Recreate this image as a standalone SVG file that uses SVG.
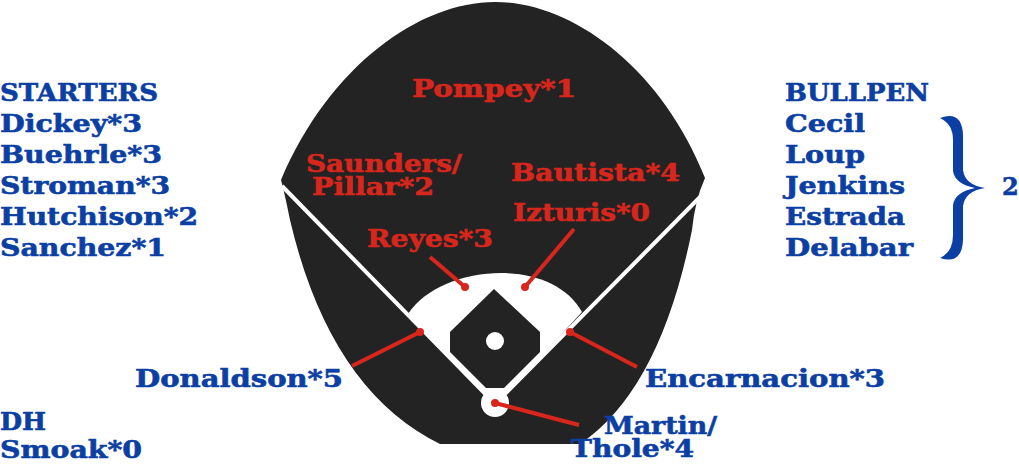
<svg xmlns="http://www.w3.org/2000/svg" width="1019" height="464" viewBox="0 0 1019 464">
<style>
text{font-family:"DejaVu Serif","Liberation Serif",serif;font-weight:900;font-size:24px;stroke-width:0.6px}
.b{fill:#0b3fa3;stroke:#0b3fa3}.r{fill:#d8261d;stroke:#d8261d}
.c{stroke:#d8261d;stroke-width:4;fill:none}
.d{fill:#d8261d}
</style>
<rect width="1019" height="464" fill="#fff"/>
<g id="field">
<path d="M281,180 C330,65 420,2 495,2 C570,2 660,65 705,178 Q695,200 692,230 Q660,390 580,444 L440,444 Q330,390 290,220 Q285,195 281,180 Z" fill="#232323"/>
<path d="M282,186 L495,404 L705,192" stroke="#fff" stroke-width="4" fill="none"/>
<path d="M408,314 C440,265 550,255 582,312 L508,392 L482,392 Z" fill="#fff"/>
<circle cx="495" cy="403" r="14" fill="#fff"/>
<polygon points="494,289 540,332 540,352 504,388 486,388 450,352 450,332" fill="#232323"/>
<circle cx="495" cy="341" r="9" fill="#fff"/>
</g>
<g id="connectors">
<path class="c" d="M430,257 L465,287"/><circle class="d" cx="465" cy="287" r="4"/>
<path class="c" d="M574,229 L525,287"/><circle class="d" cx="525" cy="287" r="4"/>
<path class="c" d="M352,366 L420,332"/><circle class="d" cx="420" cy="332" r="4"/>
<path class="c" d="M637,367 L570,332"/><circle class="d" cx="570" cy="332" r="4"/>
<path class="c" d="M579,425 L495,403"/><circle class="d" cx="495" cy="403" r="4"/>
</g>
<g id="starters" class="b">
<text x="0" y="101" textLength="158" lengthAdjust="spacingAndGlyphs">STARTERS</text>
<text x="0" y="132" textLength="142" lengthAdjust="spacingAndGlyphs">Dickey*3</text>
<text x="0" y="163" textLength="162" lengthAdjust="spacingAndGlyphs">Buehrle*3</text>
<text x="0" y="194" textLength="170" lengthAdjust="spacingAndGlyphs">Stroman*3</text>
<text x="0" y="225" textLength="198" lengthAdjust="spacingAndGlyphs">Hutchison*2</text>
<text x="0" y="256" textLength="166" lengthAdjust="spacingAndGlyphs">Sanchez*1</text>
</g>
<g id="dh" class="b">
<text x="0" y="430" textLength="46" lengthAdjust="spacingAndGlyphs">DH</text>
<text x="0" y="458" textLength="142" lengthAdjust="spacingAndGlyphs">Smoak*0</text>
</g>
<g id="bullpen" class="b">
<text x="785" y="101" textLength="144" lengthAdjust="spacingAndGlyphs">BULLPEN</text>
<text x="785" y="132" textLength="80" lengthAdjust="spacingAndGlyphs">Cecil</text>
<text x="785" y="163" textLength="80" lengthAdjust="spacingAndGlyphs">Loup</text>
<text x="785" y="194" textLength="120" lengthAdjust="spacingAndGlyphs">Jenkins</text>
<text x="785" y="225" textLength="120" lengthAdjust="spacingAndGlyphs">Estrada</text>
<text x="785" y="256" textLength="128" lengthAdjust="spacingAndGlyphs">Delabar</text>
<path d="M940,118 Q962,110 963,135 L963,170 Q965,185 985,188 Q965,191 963,206 L963,240 Q962,265 940,258 Q953,252 953,235 L953,205 Q955,192 975,188 Q955,184 953,171 L953,140 Q953,124 940,118 Z" fill="#0b3fa3" stroke="none"/>
<text x="1002" y="195" font-size="20">2</text>
</g>
<g id="outfield" class="r">
<text x="412" y="97" textLength="164" lengthAdjust="spacingAndGlyphs">Pompey*1</text>
<text x="306" y="172" font-size="20" textLength="156" lengthAdjust="spacingAndGlyphs">Saunders/</text>
<text x="312" y="195" font-size="20" textLength="122" lengthAdjust="spacingAndGlyphs">Pillar*2</text>
<text x="511" y="181" textLength="169" lengthAdjust="spacingAndGlyphs">Bautista*4</text>
<text x="513" y="221" textLength="137" lengthAdjust="spacingAndGlyphs">Izturis*0</text>
<text x="367" y="247" textLength="126" lengthAdjust="spacingAndGlyphs">Reyes*3</text>
</g>
<g id="infield" class="b">
<text x="135" y="387" textLength="208" lengthAdjust="spacingAndGlyphs">Donaldson*5</text>
<text x="645" y="387" textLength="240" lengthAdjust="spacingAndGlyphs">Encarnacion*3</text>
<text x="604" y="434" font-size="20" textLength="113" lengthAdjust="spacingAndGlyphs">Martin/</text>
<text x="571" y="457" font-size="20" textLength="123" lengthAdjust="spacingAndGlyphs">Thole*4</text>
</g>
</svg>
